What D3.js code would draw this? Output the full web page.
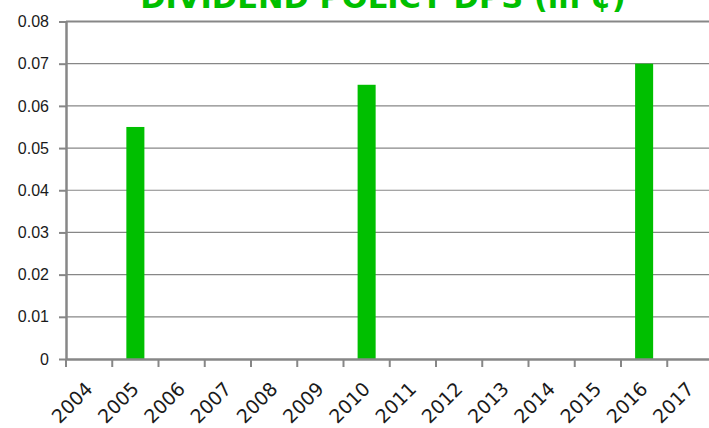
<!DOCTYPE html>
<html>
<head>
<meta charset="utf-8">
<script src="https://cdn.jsdelivr.net/npm/d3@7"></script>
<style>
  body { margin: 0; background: #fff; }
  svg { display: block; font-family: "DejaVu Sans", Verdana, sans-serif; }
</style>
</head>
<body>
<svg></svg>
<script>
let width = 709;
let height = 428;

// data
let years = ['2004', '2005', '2006', '2007', '2008', '2009', '2010',
    '2011', '2012', '2013', '2014', '2015', '2016', '2017'];
let dps = [0, 0.055, 0, 0, 0, 0, 0.065, 0, 0, 0, 0, 0, 0.07, 0];
let yTicks = [0, 0.01, 0.02, 0.03, 0.04, 0.05, 0.06, 0.07, 0.08];
let title = 'DIVIDEND POLICY DPS (in ¢)';

let green = '#00bf00';
let grey = '#878787';

let plotLeft = 66, plotRight = 713.5, plotTop = 21.5, plotBottom = 359;

let svg = d3.select('svg').attr('width', width).attr('height', height);

let xScale = d3.scaleBand()
    .domain(years)
    .range([plotLeft, plotRight])
    .paddingInner(0.61)
    .paddingOuter(0.305);

let yScale = d3.scaleLinear()
    .domain([0, 0.08])
    .range([plotBottom, plotTop]);

// grid
svg.append('g')
    .selectAll('line')
    .data(yTicks.slice(1))
    .enter()
    .append('line')
    .attr('x1', plotLeft)
    .attr('x2', width)
    .attr('y1', d => yScale(d))
    .attr('y2', d => yScale(d))
    .attr('stroke', grey)
    .attr('stroke-width', d => d === 0.08 ? 2 : 1.2);

// bars
svg.append('g')
    .selectAll('rect')
    .data(years.map((y, i) => ({ year: y, value: dps[i] })).filter(d => d.value > 0))
    .enter()
    .append('rect')
    .attr('x', d => xScale(d.year))
    .attr('width', xScale.bandwidth())
    .attr('y', d => yScale(d.value))
    .attr('height', d => plotBottom - yScale(d.value))
    .attr('fill', green);

// y axis
let yAxis = d3.axisLeft(yScale)
    .tickValues(yTicks)
    .tickSize(7)
    .tickSizeOuter(0)
    .tickPadding(10)
    .tickFormat(d => d === 0 ? '0' : d.toFixed(2));

let yAxisLayer = svg.append('g')
    .attr('transform', `translate(${plotLeft}, 0)`)
    .call(yAxis);

yAxisLayer.select('.domain').attr('stroke', grey).attr('stroke-width', 2.5);
yAxisLayer.selectAll('.tick line').attr('stroke', grey).attr('stroke-width', 2);
yAxisLayer.selectAll('.tick text')
    .attr('fill', '#1a1a1a')
    .style('font-size', '16px');

// x axis
let xAxis = d3.axisBottom(xScale).tickSize(0).tickSizeOuter(0).tickFormat('');
let xAxisLayer = svg.append('g')
    .attr('transform', `translate(0, ${plotBottom})`)
    .call(xAxis);
xAxisLayer.select('.domain').attr('stroke', grey).attr('stroke-width', 2.5);

// boundary ticks
let step = xScale.step();
svg.append('g')
    .selectAll('line')
    .data(years)
    .enter()
    .append('line')
    .attr('x1', d => xScale(d) - step * 0.305)
    .attr('x2', d => xScale(d) - step * 0.305)
    .attr('y1', plotBottom)
    .attr('y2', plotBottom + 8)
    .attr('stroke', grey)
    .attr('stroke-width', 2);

// x labels
svg.append('g')
    .selectAll('text')
    .data(years)
    .enter()
    .append('text')
    .attr('transform', d => `translate(${xScale(d) + xScale.bandwidth() / 2}, 385.5) rotate(-45)`)
    .attr('text-anchor', 'end')
    .attr('dy', '0.35em')
    .attr('fill', '#1a1a1a')
    .style('font-size', '19px')
    .text(d => d);

// title (cut off at top, as in the source)
svg.append('text')
    .attr('x', 383)
    .attr('y', 8)
    .attr('text-anchor', 'middle')
    .attr('fill', green)
    .style('font-size', '30.5px')
    .style('font-weight', 'bold')
    .text(title);
</script>
</body>
</html>
